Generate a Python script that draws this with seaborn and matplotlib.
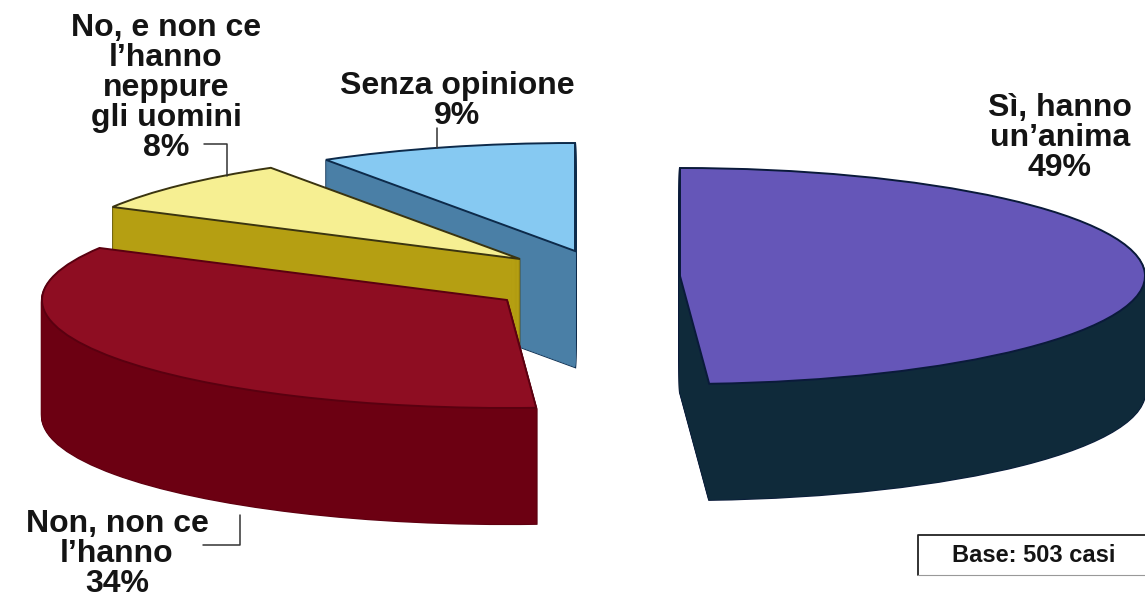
import seaborn as sns
import matplotlib.pyplot as plt

# dati del grafico
labels = ['Senza opinione\n9%',
          'No, e non ce\nl’hanno\nneppure\ngli uomini\n8%',
          'Non, non ce\nl’hanno\n34%',
          'Sì, hanno\nun’anima\n49%']
values = [9, 8, 34, 49]
base_text = 'Base: 503 casi'

top_colors = ['#86c9f2', '#f6ef92', '#8e0d22', '#6556b8']
side_colors = ['#4a7fa6', '#b59f12', '#6c0012', '#0f2a3a']
edge_colors = ['#0d2a4a', '#3a3410', '#5a0010', '#0a1a3a']

# geometria in pixel dell'immagine
W, H = 1145, 597
RX, RY = 465, 108
DEPTH = 116
centers = [(575, 251), (520, 259), (507, 300), (680, 276)]
label_pos = [(457, 101), (166, 88), (117, 554), (1060, 138)]
leaders = [([437, 437], [128, 148]),
           ([204, 227, 227], [144, 144, 176]),
           ([203, 240, 240], [545, 545, 515])]

sns.set_theme(style='white')
plt.rcParams['font.family'] = ['Liberation Sans', 'DejaVu Sans']

fig = plt.figure(figsize=(W / 100, H / 100), dpi=100, facecolor='white')
ax = fig.add_axes([0, 0, 1, 1])


def draw_layer(colors, drop, z, lw=0.0, edges=None):
    # una torta intera, poi ogni fetta viene spostata al suo centro
    wedges, _ = ax.pie(values, startangle=90, colors=colors, radius=1,
                       wedgeprops={'linewidth': lw})
    for i, w in enumerate(wedges):
        cx, cy = centers[i]
        w.set_center((cx / RX, (H - cy - drop) / RY))
        w.set_zorder(i + z)
        if edges is not None:
            w.set_edgecolor(edges[i])
        else:
            w.set_edgecolor(colors[i])


# prima i bordi scuri, poi il riempimento del fianco, poi la faccia superiore
for d in range(DEPTH, 0, -1):
    draw_layer(edge_colors, d, 0.1, lw=1.6, edges=edge_colors)
for d in range(DEPTH, 0, -1):
    draw_layer(side_colors, d, 0.2, lw=0.5)
draw_layer(top_colors, 0, 0.3, lw=1.4, edges=edge_colors)

ax.set_aspect('auto')
ax.set_xlim(0, W / RX)
ax.set_ylim(0, H / RY)
ax.set_axis_off()

# livello in pixel per testi e linee
ov = fig.add_axes([0, 0, 1, 1], facecolor='none')
ov.set_xlim(0, W)
ov.set_ylim(H, 0)
ov.set_axis_off()

for txt, (x, y) in zip(labels, label_pos):
    ov.text(x, y, txt, ha='center', va='center', fontsize=23, fontweight='bold',
            color='#141414', linespacing=1.0)
for xs, ys in leaders:
    ov.plot(xs, ys, color='#333333', lw=1.1)

ov.plot([918, 918, W], [575, 535, 535], color='#222222', lw=1.3)
ov.plot([918, W], [575, 575], color='#999999', lw=0.8)
ov.text(1034, 556, base_text, ha='center', va='center', fontsize=17,
        fontweight='bold', color='#141414')

fig.savefig('out.png', dpi=100, facecolor='white')
